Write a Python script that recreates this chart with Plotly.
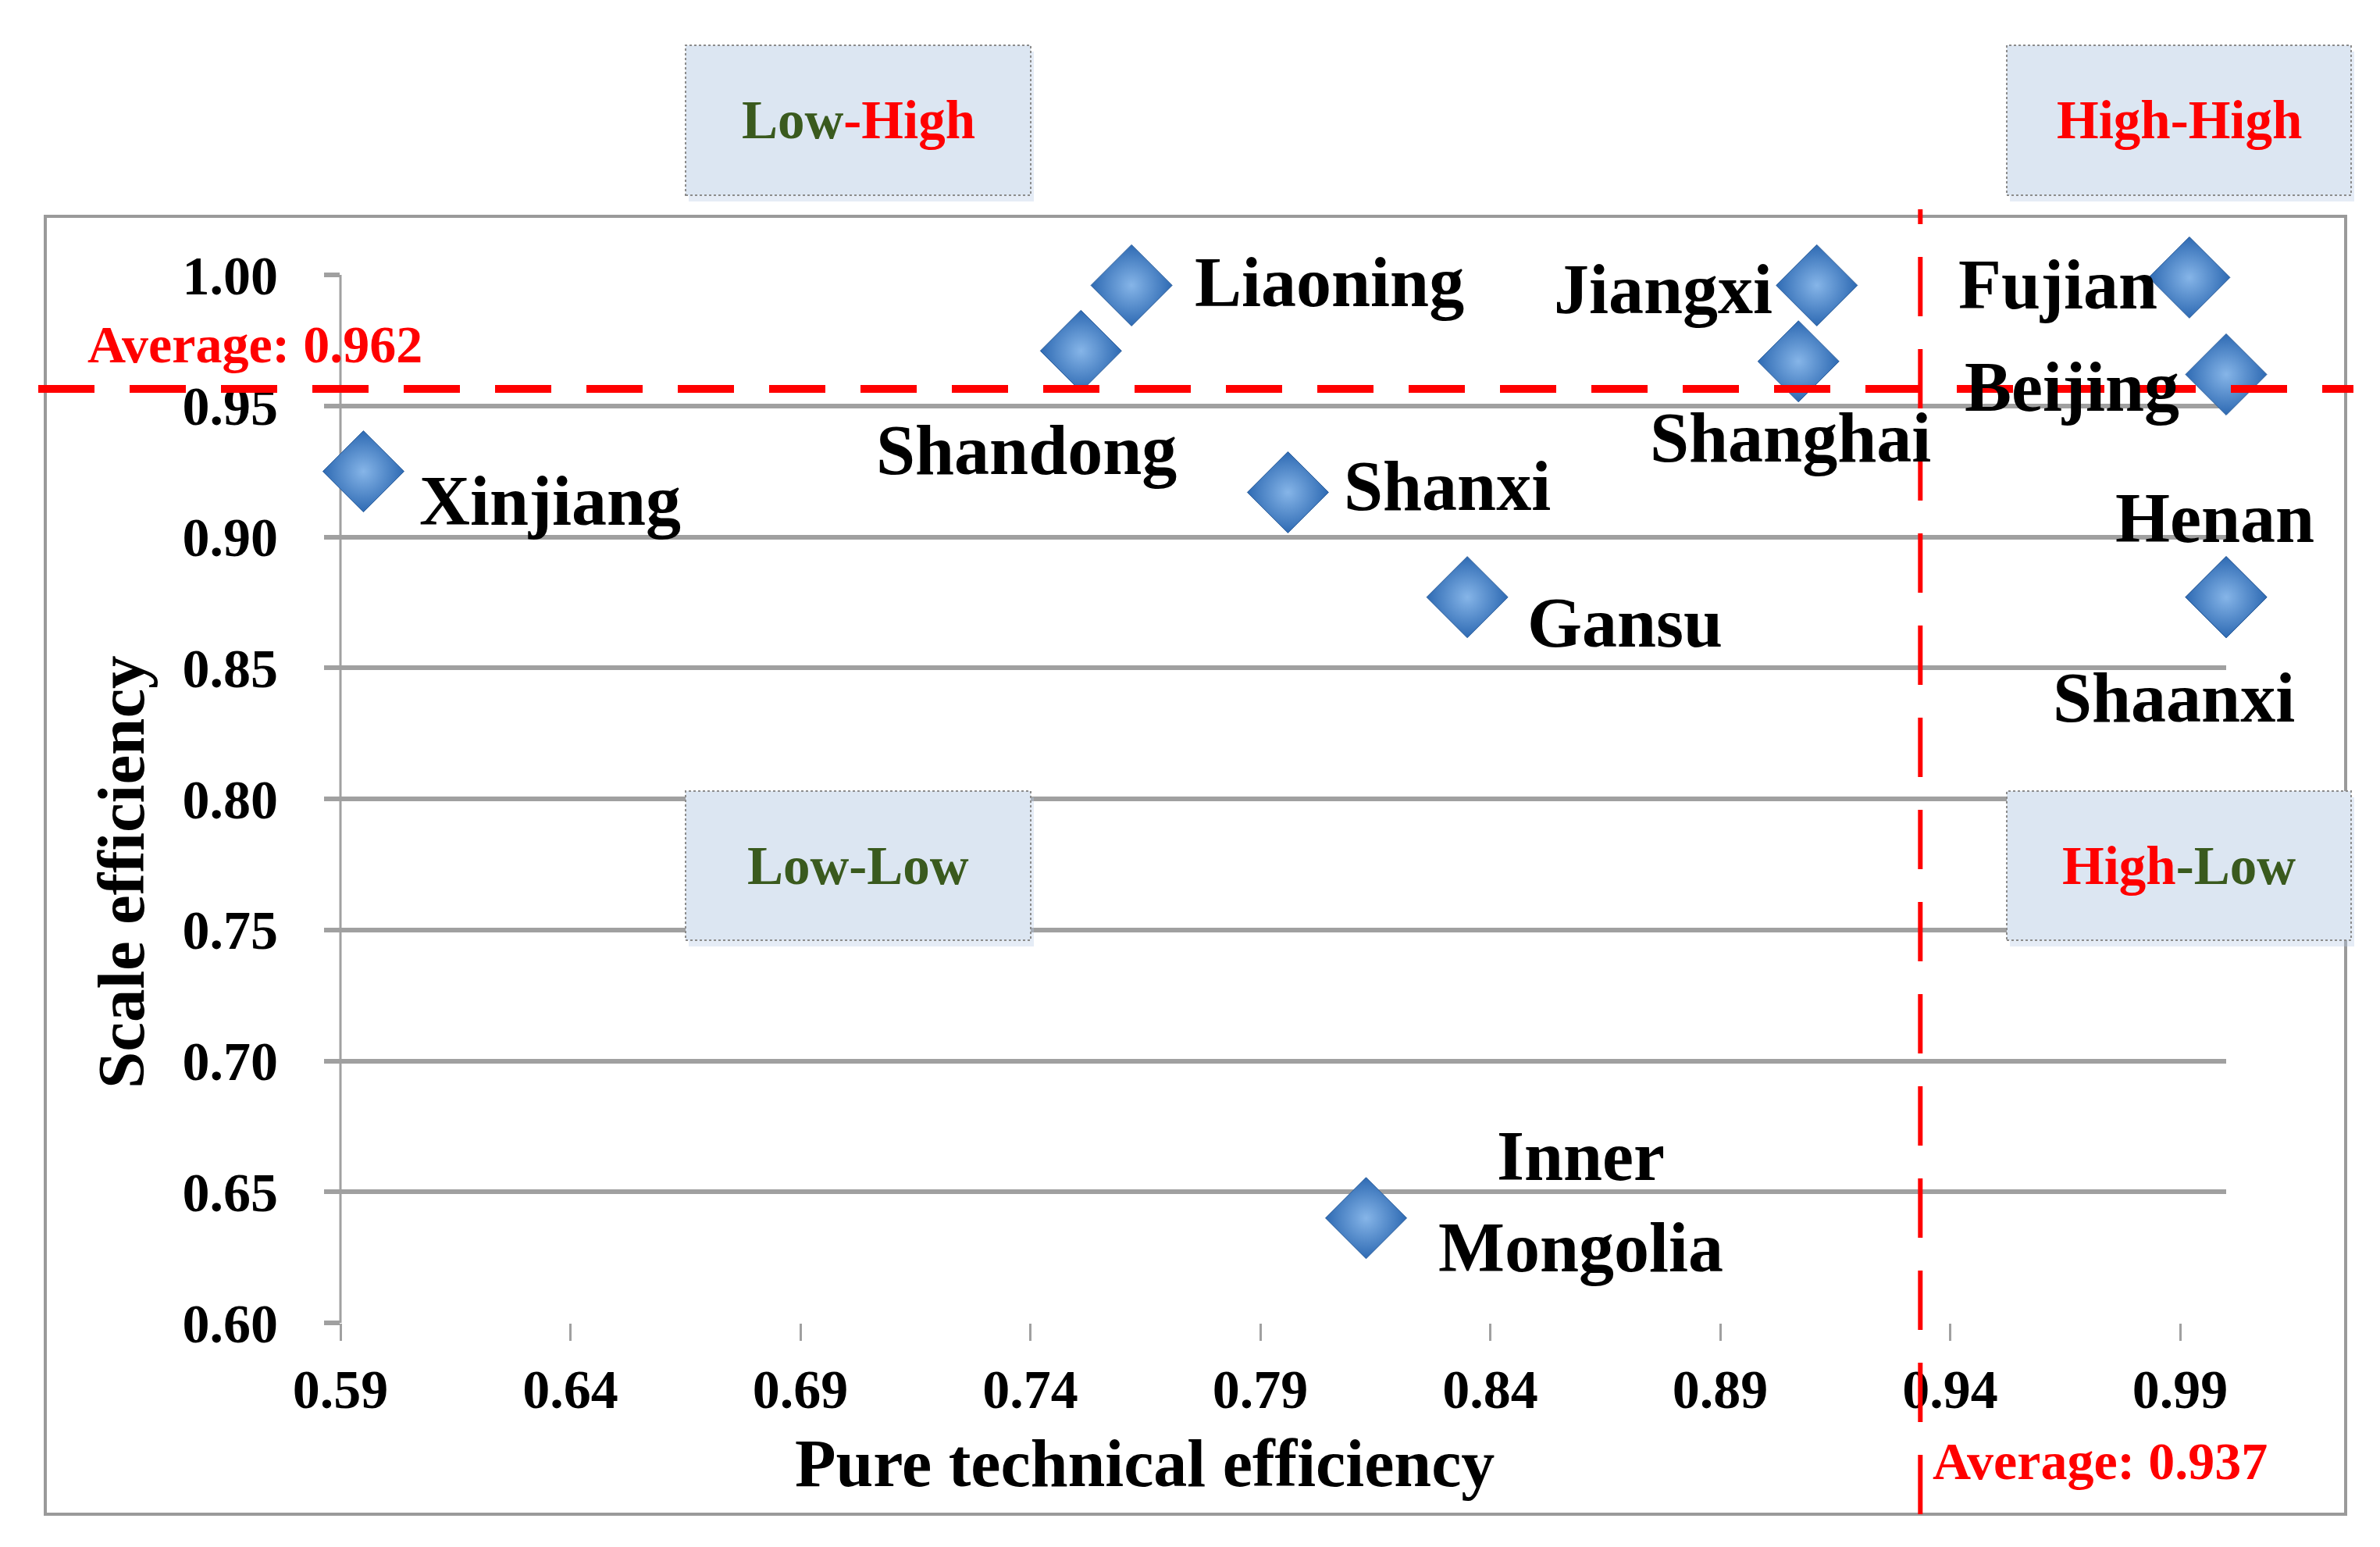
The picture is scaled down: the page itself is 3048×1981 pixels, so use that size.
import plotly.graph_objects as go

# ---------------- data ----------------
regions = ["Xinjiang", "Shandong", "Liaoning", "Shanxi", "Gansu", "Inner<br>Mongolia",
           "Jiangxi", "Shanghai", "Fujian", "Beijing", "Henan", "Shaanxi"]
pure_tech_eff = [0.595, 0.751, 0.762, 0.796, 0.835, 0.813,
                 0.911, 0.907, 0.992, 1.000, 1.000, 1.000]
scale_eff = [0.925, 0.971, 0.996, 0.917, 0.877, 0.640,
             0.996, 0.967, 0.999, 0.962, 0.877, 0.877]

x_ticks = [0.59, 0.64, 0.69, 0.74, 0.79, 0.84, 0.89, 0.94, 0.99]
x_tick_text = ["0.59", "0.64", "0.69", "0.74", "0.79", "0.84", "0.89", "0.94", "0.99"]
y_ticks = [0.60, 0.65, 0.70, 0.75, 0.80, 0.85, 0.90, 0.95, 1.00]
y_tick_text = ["0.60", "0.65", "0.70", "0.75", "0.80", "0.85", "0.90", "0.95", "1.00"]

avg_pte_line = 0.9335      # where the vertical average line is drawn
avg_pte_label = "Average: 0.937"
avg_se_line = 0.9565       # where the horizontal average line is drawn
avg_se_label = "Average: 0.962"

# label offsets (pixels) relative to each point: (xshift, yshift, xanchor)
label_offsets = [(70, -38, "left"), (-70, -127, "center"), (79, 4, "left"),
                 (70, 8, "left"), (75, -33, "left"), (275, 21, "center"),
                 (-55, -5, "right"), (-10, -98, "center"), (-39, -9, "right"),
                 (-58, -16, "right"), (-15, 101, "center"), (-67, -129, "center")]

# ---------------- layout geometry ----------------
W, H = 3048, 1981
L, R, T, B = 428, 2843, 344, 1686


def px(xp):
    return (xp - L) / (R - L)


def py(yp):
    return (B - yp) / (B - T)


SERIF = "Liberation Serif"
GREEN = "#3a5a1e"
RED = "#ff0000"
GRID = "#a0a0a0"

fig = go.Figure()

fig.add_trace(go.Scatter(
    x=pure_tech_eff, y=scale_eff, mode="markers",
    marker=dict(symbol="diamond", size=80, color="#2e6ab3",
                gradient=dict(type="radial", color="#86b5e8"),
                line=dict(color="#2a5c99", width=1)),
    cliponaxis=False, showlegend=False, hoverinfo="skip"))

annotations = []
for name, xv, yv, (dx, dy, anc) in zip(regions, pure_tech_eff, scale_eff, label_offsets):
    annotations.append(dict(x=xv, y=yv, xref="x", yref="y", text="<b>%s</b>" % name,
                            showarrow=False, xanchor=anc, yanchor="middle",
                            xshift=dx, yshift=dy,
                            font=dict(family=SERIF, size=90, color="black")))

# quadrant boxes
boxes = [
    (870, 1312, 50, 242, "<b><span style='color:%s'>Low</span><span style='color:%s'>-High</span></b>" % (GREEN, RED)),
    (2562, 3003, 50, 242, "<b><span style='color:%s'>High-High</span></b>" % RED),
    (870, 1312, 1005, 1196, "<b><span style='color:%s'>Low-Low</span></b>" % GREEN),
    (2562, 3003, 1005, 1196, "<b><span style='color:%s'>High</span><span style='color:%s'>-Low</span></b>" % (RED, GREEN)),
]
shapes = []
# outer frame
shapes.append(dict(type="rect", xref="paper", yref="paper",
                   x0=px(50), x1=px(2996), y0=py(1931), y1=py(269),
                   line=dict(color="#9a9a9a", width=4), layer="below"))
for x0, x1, y0, y1, txt in boxes:
    shapes.append(dict(type="rect", xref="paper", yref="paper",
                       x0=px(x0 + 4), x1=px(x1 + 4), y0=py(y1 + 8), y1=py(y0 + 8),
                       fillcolor="rgba(180,200,230,0.35)", line=dict(width=0), layer="above"))
    shapes.append(dict(type="rect", xref="paper", yref="paper",
                       x0=px(x0), x1=px(x1), y0=py(y1), y1=py(y0),
                       fillcolor="#dce6f2", line=dict(color="#8c8c8c", width=2, dash="dot"),
                       layer="above"))
    annotations.append(dict(x=px((x0 + x1) / 2), y=py((y0 + y1) / 2), xref="paper", yref="paper",
                            text=txt, showarrow=False, xanchor="center", yanchor="middle",
                            font=dict(family=SERIF, size=69)))

# average lines
shapes.append(dict(type="line", xref="paper", yref="y", x0=px(41), x1=px(3006),
                   y0=avg_se_line, y1=avg_se_line,
                   line=dict(color=RED, width=10, dash="72px,45px"), layer="above"))
shapes.append(dict(type="line", xref="x", yref="paper", x0=avg_pte_line, x1=avg_pte_line,
                   y0=py(1931), y1=py(260),
                   line=dict(color=RED, width=6, dash="76px,42px"), layer="above"))

annotations.append(dict(x=px(102), y=py(433), xref="paper", yref="paper",
                        text="<b>%s</b>" % avg_se_label, showarrow=False,
                        xanchor="left", yanchor="middle",
                        font=dict(family=SERIF, size=68, color=RED)))
annotations.append(dict(x=px(2465), y=py(1863), xref="paper", yref="paper",
                        text="<b>%s</b>" % avg_pte_label, showarrow=False,
                        xanchor="left", yanchor="middle",
                        font=dict(family=SERIF, size=68, color=RED)))

# axis titles
annotations.append(dict(x=px(1458), y=py(1866), xref="paper", yref="paper",
                        text="<b>Pure technical efficiency</b>", showarrow=False,
                        xanchor="center", yanchor="middle",
                        font=dict(family=SERIF, size=86, color="black")))
annotations.append(dict(x=px(147), y=py(1109), xref="paper", yref="paper",
                        text="<b>Scale efficiency</b>", showarrow=False, textangle=-90,
                        xanchor="center", yanchor="middle",
                        font=dict(family=SERIF, size=85, color="black")))

fig.update_layout(
    width=W, height=H,
    margin=dict(l=L, r=W - R, t=T, b=H - B),
    paper_bgcolor="white", plot_bgcolor="white",
    shapes=shapes, annotations=annotations,
    xaxis=dict(range=[0.59, 1.00], tickvals=x_ticks, ticktext=x_tick_text,
               showgrid=False, zeroline=False, showline=False,
               ticks="outside", ticklen=22, tickwidth=3, tickcolor=GRID,
               ticklabelstandoff=2,
               tickfont=dict(family=SERIF, size=70, color="black", weight="bold")),
    yaxis=dict(range=[0.60, 1.00], tickvals=y_ticks, ticktext=y_tick_text,
               showgrid=True, gridcolor=GRID, gridwidth=6, zeroline=False,
               showline=False,
               ticks="outside", ticklen=20, tickwidth=6, tickcolor=GRID,
               ticklabelstandoff=45,
               tickfont=dict(family=SERIF, size=70, color="black", weight="bold")),
)
# y axis line drawn as shape so it only spans the plotted range
fig.add_shape(type="line", xref="paper", yref="paper", x0=0, x1=0, y0=0, y1=1,
              line=dict(color=GRID, width=3), layer="below")

fig.write_html("out.html")
